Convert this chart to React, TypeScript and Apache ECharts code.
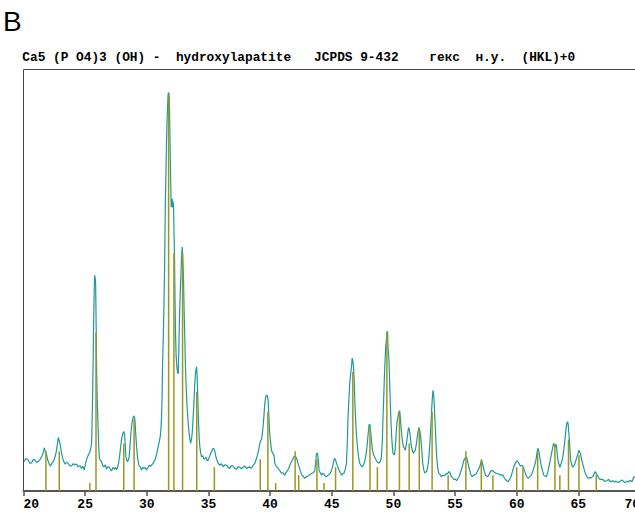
import React, { useEffect, useRef } from "react";
import * as echarts from "echarts";

// 2θ axis ticks
const xMin = 20;
const xMax = 70;
const xStep = 5;

// Reference stick pattern (JCPDS 9-432, hydroxylapatite): 2θ and relative intensity
const stickTheta = [
  21.82, 22.9, 25.38, 25.88, 28.13, 28.97, 31.77, 32.2, 32.9, 34.05, 35.48,
  39.2, 39.82, 40.45, 42.03, 42.32, 43.8, 44.37, 45.31, 46.71, 48.1, 48.7,
  49.47, 50.49, 51.28, 52.1, 53.14, 54.44, 55.88, 57.13, 58.07, 60.0, 60.5,
  61.7, 63.1, 63.5, 64.2, 65.05, 66.45,
];
const stickIntensity = [
  10, 10, 2, 40, 12, 18, 100, 60, 60, 25, 6,
  8, 20, 2, 10, 4, 8, 2, 6, 30, 16, 6,
  40, 20, 12, 16, 20, 4, 10, 8, 4, 6, 6,
  10, 12, 4, 13, 9, 4,
];

// Measured diffraction profile: [2θ, intensity]
const profile: [number, number][] = [
  [20.04, 7.4], [20.2, 8.2], [20.39, 7.8], [20.5, 7.0], [20.66, 7.1], [20.8, 8.0], [20.93, 7.8],
  [21.05, 7.2], [21.2, 7.4], [21.35, 8.0], [21.47, 8.6], [21.6, 9.6], [21.69, 10.9], [21.75, 10.2],
  [21.82, 9.9], [21.9, 8.8], [21.96, 7.9], [22.08, 6.8], [22.2, 6.3], [22.3, 7.0], [22.42, 7.4],
  [22.52, 8.2], [22.63, 9.5], [22.72, 11.2], [22.82, 13.5], [22.9, 12.6], [22.96, 12.0], [23.05, 10.2],
  [23.15, 8.6], [23.25, 7.6], [23.36, 6.8], [23.5, 7.3], [23.63, 6.9], [23.75, 6.4], [23.9, 6.3],
  [24.03, 6.9], [24.17, 6.6], [24.3, 6.8], [24.44, 6.1], [24.58, 6.4], [24.71, 5.7], [24.82, 6.2],
  [24.93, 5.3], [25.02, 6.8], [25.12, 8.0], [25.25, 9.0], [25.39, 9.9], [25.47, 11], [25.53, 12.4],
  [25.6, 22.9], [25.65, 33], [25.69, 43], [25.74, 51], [25.77, 54.4], [25.82, 53.6], [25.85, 52.3],
  [25.9, 40], [25.93, 30.5], [25.98, 23], [26.04, 17], [26.1, 11.5], [26.15, 8.2], [26.24, 7.8],
  [26.33, 7.4], [26.42, 6.5], [26.52, 6.1], [26.63, 6.6], [26.74, 5.5], [26.85, 6.2], [26.95, 6.0],
  [27.05, 5.4], [27.14, 5.1], [27.25, 5.9], [27.36, 5.5], [27.45, 6.0], [27.55, 5.3], [27.63, 6.0],
  [27.71, 7.0], [27.8, 9.0], [27.88, 11.2], [27.97, 13.4], [28.06, 14.5], [28.13, 15.0], [28.2, 14.2],
  [28.26, 11], [28.31, 8.6], [28.41, 7.4], [28.5, 7.8], [28.57, 8.6], [28.64, 11.5], [28.71, 14.5],
  [28.8, 17.2], [28.9, 18.7], [28.97, 18.9], [29.04, 17.9], [29.1, 14.5], [29.17, 11.2], [29.26, 8.2],
  [29.36, 6.5], [29.47, 6.0], [29.58, 5.3], [29.68, 6.0], [29.77, 5.7], [29.88, 5.9], [29.98, 5.3],
  [30.11, 6.0], [30.2, 6.5], [30.3, 6.2], [30.39, 6.5], [30.52, 7.0], [30.66, 7.8], [30.8, 9.3],
  [30.92, 11.2], [31.0, 12.3], [31.09, 13.7], [31.15, 15.8], [31.2, 18.7], [31.24, 24], [31.28, 32.2],
  [31.34, 39], [31.39, 46.4], [31.45, 58], [31.5, 71.6], [31.55, 80], [31.6, 88.4], [31.66, 95],
  [31.73, 100.2], [31.78, 100.5], [31.82, 99.3], [31.86, 93], [31.9, 85], [31.94, 78], [31.98, 71.6],
  [32.02, 72], [32.06, 73.7], [32.1, 71.5], [32.14, 73], [32.17, 71.6], [32.21, 65], [32.25, 58.2],
  [32.29, 48], [32.33, 39.7], [32.38, 34], [32.44, 31.3], [32.5, 29.8], [32.55, 29.6], [32.6, 36],
  [32.66, 44.8], [32.71, 50], [32.76, 54], [32.82, 59], [32.87, 61.5], [32.92, 58.5], [32.98, 53.1],
  [33.03, 45], [33.09, 37.2], [33.14, 31], [33.19, 26.3], [33.27, 21], [33.36, 17], [33.45, 14],
  [33.55, 12.0], [33.62, 13], [33.68, 14.5], [33.75, 18], [33.82, 22.1], [33.88, 26.5], [33.95, 29.6],
  [34.0, 30.8], [34.04, 31.3], [34.08, 29], [34.12, 25.4], [34.16, 21], [34.2, 17], [34.25, 13.5],
  [34.3, 11.2], [34.37, 9.6], [34.44, 8.6], [34.55, 8.9], [34.63, 8.0], [34.71, 8.2], [34.82, 8.5],
  [34.9, 7.6], [34.98, 7.8], [35.08, 8.6], [35.19, 9.5], [35.28, 10.2], [35.38, 10.8], [35.45, 10.6],
  [35.52, 10.0], [35.58, 9.0], [35.65, 8.2], [35.78, 7.0], [35.92, 6.5], [36.05, 6.9], [36.19, 6.1],
  [36.33, 6.6], [36.47, 6.5], [36.6, 5.9], [36.73, 5.7], [36.86, 6.4], [37.0, 6.3], [37.14, 5.7],
  [37.28, 5.5], [37.41, 6.2], [37.54, 6.0], [37.67, 5.6], [37.81, 6.0], [37.95, 6.3], [38.09, 5.7],
  [38.22, 6.0], [38.36, 6.1], [38.45, 5.7], [38.54, 6.0], [38.65, 6.6], [38.76, 7.0], [38.87, 8.0],
  [38.98, 9.1], [39.08, 10.5], [39.17, 12.0], [39.24, 12.8], [39.31, 13.0], [39.37, 14.5], [39.43, 16.2],
  [39.5, 19], [39.57, 22.1], [39.65, 23.8], [39.73, 24.2], [39.78, 24.0], [39.84, 22.9], [39.9, 19],
  [39.95, 15.4], [40.03, 12.5], [40.11, 10.3], [40.2, 9.6], [40.32, 9.0], [40.38, 7.0], [40.5, 6.3],
  [40.65, 5.7], [40.78, 5.2], [40.92, 4.5], [41.05, 4.6], [41.19, 4.0], [41.28, 4.6], [41.38, 5.0],
  [41.5, 5.6], [41.6, 6.5], [41.7, 7.2], [41.81, 7.8], [41.9, 8.5], [42.0, 8.8], [42.07, 8.6],
  [42.14, 8.4], [42.24, 7.2], [42.35, 6.1], [42.46, 5.0], [42.57, 4.0], [42.69, 3.7], [42.81, 3.2],
  [42.95, 3.6], [43.08, 3.8], [43.22, 4.1], [43.36, 4.4], [43.5, 4.6], [43.62, 5.1], [43.69, 7.0],
  [43.76, 9.3], [43.82, 9.6], [43.87, 9.0], [43.93, 7.0], [43.98, 5.1], [44.07, 4.6], [44.17, 4.0],
  [44.26, 4.5], [44.36, 4.3], [44.46, 3.8], [44.57, 3.6], [44.7, 4.0], [44.84, 4.3], [44.95, 5.0],
  [45.06, 6.0], [45.14, 7.2], [45.22, 8.2], [45.3, 7.9], [45.38, 7.1], [45.48, 6.2], [45.59, 5.3],
  [45.7, 4.6], [45.81, 4.0], [45.9, 4.4], [46.0, 4.5], [46.1, 5.5], [46.19, 7.0], [46.26, 12],
  [46.32, 18.7], [46.39, 23], [46.46, 27.1], [46.53, 29.5], [46.6, 31.3], [46.66, 33.5], [46.7, 33.0],
  [46.76, 31.5], [46.81, 28.8], [46.88, 22], [46.95, 17], [47.03, 13], [47.11, 10.3], [47.19, 8.2],
  [47.27, 7.0], [47.36, 6.5], [47.46, 6.1], [47.56, 6.5], [47.67, 7.4], [47.77, 9.0], [47.86, 11.2],
  [47.94, 14], [48.02, 16.6], [48.08, 16.9], [48.13, 16.0], [48.2, 13.5], [48.3, 10.3], [48.39, 9.2],
  [48.48, 8.6], [48.57, 8.0], [48.67, 7.4], [48.75, 7.2], [48.83, 7.0], [48.93, 7.4], [49.03, 8.6],
  [49.1, 12.5], [49.16, 18.7], [49.23, 25], [49.3, 31.3], [49.37, 36], [49.43, 38], [49.49, 40.3],
  [49.53, 40.0], [49.56, 36.5], [49.64, 33], [49.7, 27], [49.76, 21.2], [49.81, 17], [49.86, 13.7],
  [49.92, 11], [49.97, 9.5], [50.03, 9.2], [50.08, 9.1], [50.14, 10.5], [50.19, 12.8], [50.24, 15.4],
  [50.3, 17.5], [50.37, 18.7], [50.45, 20.0], [50.51, 20.2], [50.56, 18.5], [50.62, 16.2], [50.7, 13.5],
  [50.78, 11.6], [50.88, 10.8], [50.97, 10.3], [51.05, 11.8], [51.13, 13.7], [51.18, 15.0], [51.23, 16.0],
  [51.29, 15.5], [51.34, 14.5], [51.4, 12.8], [51.46, 11.2], [51.54, 10.2], [51.62, 9.5], [51.7, 9.9],
  [51.78, 10.3], [51.86, 11.8], [51.94, 13.7], [52.01, 15.2], [52.08, 16.0], [52.14, 15.3], [52.21, 13.7],
  [52.3, 10.5], [52.38, 7.0], [52.46, 5.4], [52.54, 4.5], [52.62, 4.8], [52.7, 4.9], [52.78, 6.0],
  [52.86, 7.8], [52.94, 11.0], [53.02, 15.4], [53.08, 19.0], [53.13, 22.1], [53.17, 24.0], [53.21, 25.4],
  [53.25, 24.6], [53.29, 23.3], [53.34, 20.0], [53.4, 16.2], [53.45, 12.5], [53.51, 8.6], [53.59, 6.0],
  [53.67, 4.5], [53.78, 4.2], [53.89, 3.6], [54.02, 4.0], [54.16, 3.8], [54.27, 4.4], [54.38, 4.3],
  [54.46, 4.7], [54.54, 4.9], [54.62, 4.3], [54.7, 3.6], [54.8, 3.4], [54.91, 2.9], [55.02, 3.0],
  [55.13, 2.6], [55.22, 3.1], [55.32, 3.6], [55.42, 4.5], [55.51, 5.3], [55.62, 6.5], [55.72, 7.8],
  [55.82, 8.3], [55.92, 8.6], [55.98, 8.0], [56.05, 7.0], [56.13, 5.9], [56.21, 4.9], [56.29, 4.1],
  [56.37, 3.6], [56.48, 3.9], [56.59, 4.1], [56.7, 4.3], [56.81, 4.9], [56.9, 5.5], [57.0, 6.1],
  [57.08, 7.0], [57.16, 7.8], [57.22, 7.0], [57.29, 6.1], [57.37, 5.0], [57.46, 4.0], [57.56, 3.8],
  [57.66, 3.6], [57.77, 4.2], [57.88, 4.9], [57.96, 5.2], [58.05, 5.1], [58.16, 4.8], [58.27, 4.6],
  [58.38, 4.4], [58.48, 4.3], [58.59, 4.2], [58.7, 4.0], [58.79, 4.1], [58.88, 4.0], [58.98, 3.4],
  [59.08, 2.9], [59.18, 2.6], [59.29, 2.3], [59.4, 2.8], [59.51, 3.4], [59.6, 4.3], [59.69, 5.3],
  [59.78, 6.2], [59.88, 7.0], [59.96, 7.4], [60.04, 7.6], [60.1, 7.3], [60.16, 7.1], [60.24, 6.6],
  [60.32, 6.3], [60.42, 6.5], [60.53, 6.1], [60.62, 5.2], [60.7, 4.5], [60.8, 3.8], [60.91, 3.2],
  [61.02, 3.5], [61.13, 3.8], [61.24, 4.5], [61.34, 5.3], [61.45, 6.4], [61.56, 7.8], [61.64, 9.5],
  [61.72, 10.8], [61.78, 10.2], [61.83, 9.5], [61.9, 8.0], [61.99, 6.3], [62.1, 5.0], [62.2, 4.0],
  [62.3, 3.8], [62.4, 3.6], [62.5, 4.5], [62.59, 5.7], [62.7, 7.4], [62.8, 9.1], [62.9, 10.6],
  [62.99, 12.0], [63.05, 11.6], [63.1, 11.0], [63.16, 11.5], [63.21, 11.7], [63.27, 10.0], [63.34, 7.8],
  [63.42, 6.8], [63.5, 6.0], [63.58, 6.6], [63.66, 7.5], [63.74, 8.6], [63.82, 10.3], [63.9, 12.5],
  [63.96, 14.5], [64.02, 16.0], [64.07, 17.2], [64.13, 17.4], [64.18, 16.8], [64.22, 15.0], [64.26, 13.3],
  [64.32, 10.5], [64.37, 7.8], [64.45, 6.8], [64.53, 6.0], [64.61, 6.3], [64.69, 6.6], [64.77, 7.4],
  [64.85, 8.2], [64.95, 9.3], [65.04, 10.3], [65.11, 9.8], [65.18, 9.3], [65.26, 8.0], [65.34, 7.0],
  [65.45, 5.7], [65.56, 4.5], [65.66, 3.8], [65.77, 3.2], [65.88, 3.4], [65.99, 3.2], [66.1, 3.5],
  [66.21, 3.8], [66.29, 4.4], [66.37, 4.9], [66.45, 4.5], [66.53, 4.0], [66.64, 3.4], [66.74, 2.9],
  [66.88, 3.0], [67.02, 2.8], [67.15, 2.4], [67.29, 2.6], [67.45, 2.9], [67.61, 2.3], [67.77, 2.6],
  [67.93, 2.3], [68.07, 2.5], [68.2, 2.1], [68.37, 2.4], [68.53, 2.8], [68.67, 2.4], [68.8, 2.1],
  [68.94, 2.5], [69.07, 2.3], [69.2, 2.7], [69.34, 2.3], [69.42, 2.9], [69.5, 3.6], [69.6, 3.4],
];

const panelLabel = "B";
const headerText =
  "Ca5 (P O4)3 (OH) -  hydroxylapatite   JCPDS 9-432    гекс  н.у.  (HKL)+0";

export default function App() {
  const ref = useRef<HTMLDivElement>(null);

  useEffect(() => {
    if (!ref.current) return;
    const chart = echarts.init(ref.current, null, { renderer: "svg" });
    const stickColor = "#9c9620";
    chart.setOption({
      animation: false,
      backgroundColor: "#ffffff",
      grid: {
        left: 23.5,
        top: 69.5,
        right: -5,
        bottom: 22,
        containLabel: false,
        outerBoundsMode: "none",
        show: true,
        borderColor: "#444444",
        borderWidth: 1,
        backgroundColor: "transparent",
      },
      xAxis: {
        type: "value",
        min: xMin,
        max: xMax,
        interval: xStep,
        axisLine: { show: true, onZero: false, lineStyle: { color: "#555555", width: 2 } },
        axisTick: { show: true, length: 5, lineStyle: { color: "#555555", width: 1.5 } },
        splitLine: { show: false },
        axisLabel: {
          color: "#000000",
          fontFamily: "Liberation Mono",
          fontSize: 13,
          fontWeight: "bold",
          margin: 7,
          alignMinLabel: "left",
          alignMaxLabel: "right",
        },
      },
      yAxis: {
        type: "value",
        min: 0,
        max: 106.3,
        axisLine: { show: false },
        axisTick: { show: false },
        axisLabel: { show: false },
        splitLine: { show: false },
      },
      graphic: [
        {
          type: "text",
          x: 3,
          y: 21,
          style: {
            text: panelLabel,
            fontFamily: "Liberation Sans",
            fontSize: 28,
            fill: "#000000",
            verticalAlign: "middle",
            align: "left",
          },
        },
        {
          type: "text",
          x: 22.3,
          y: 57,
          style: {
            text: headerText.replace(/ /g, "\u00a0"),
            fontFamily: "Liberation Mono",
            fontSize: 12.8,
            fontWeight: "bold",
            fill: "#000000",
            verticalAlign: "middle",
            align: "left",
          },
        },
      ],
      series: [
        {
          type: "line",
          data: profile,
          showSymbol: false,
          symbol: "none",
          smooth: false,
          lineStyle: { color: "#1f9a9a", width: 1.2 },
          z: 2,
        },
        {
          type: "custom",
          data: stickTheta.map((t, i) => [t, stickIntensity[i]]),
          encode: { x: 0, y: 1 },
          z: 3,
          renderItem: (params: any, api: any) => {
            const x = api.value(0);
            const y = api.value(1);
            const p0 = api.coord([x, 0]);
            const p1 = api.coord([x, y]);
            return {
              type: "line",
              shape: { x1: p0[0], y1: p0[1], x2: p1[0], y2: p1[1] },
              style: { stroke: stickColor, lineWidth: 1.5 },
            };
          },
        },
      ],
    });
    return () => chart.dispose();
  }, []);

  return (
    <div
      ref={ref}
      style={{ position: "absolute", left: 0, top: 0, width: 635, height: 513 }}
    />
  );
}
